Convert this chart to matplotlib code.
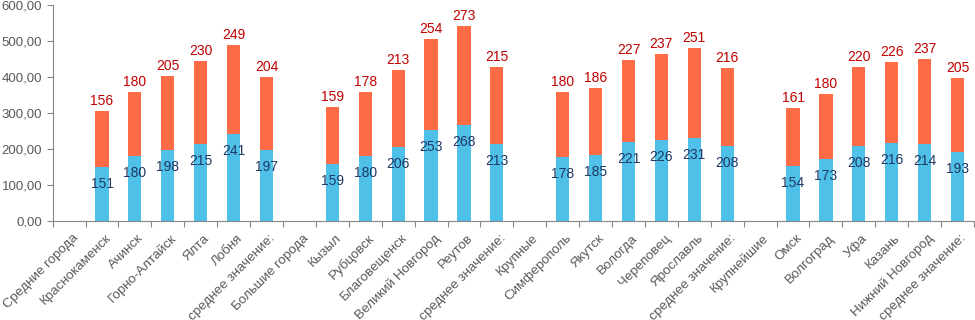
import matplotlib.pyplot as plt
import numpy as np

plt.rcParams['font.family'] = ['Liberation Sans', 'DejaVu Sans']

# data
categories = ['Средние города', 'Краснокаменск', 'Ачинск', 'Горно-Алтайск', 'Ялта', 'Лобня',
              'среднее значение:', 'Большие города', 'Кызыл', 'Рубцовск', 'Благовещенск',
              'Великий Новгород', 'Реутов', 'среднее значение:', 'Крупные', 'Симферополь',
              'Якутск', 'Вологда', 'Череповец', 'Ярославль', 'среднее значение:', 'Крупнейшие',
              'Омск', 'Волгоград', 'Уфа', 'Казань', 'Нижний Новгород', 'среднее значение:']
blue = [np.nan, 151, 180, 198, 215, 241, 197,
        np.nan, 159, 180, 206, 253, 268, 213,
        np.nan, 178, 185, 221, 226, 231, 208,
        np.nan, 154, 173, 208, 216, 214, 193]
red = [np.nan, 156, 180, 205, 230, 249, 204,
       np.nan, 159, 178, 213, 254, 273, 215,
       np.nan, 180, 186, 227, 237, 251, 216,
       np.nan, 161, 180, 220, 226, 237, 205]
yticks = [0, 100, 200, 300, 400, 500, 600]

blue = np.array(blue, dtype=float)
red = np.array(red, dtype=float)
x = np.arange(len(categories))

fig = plt.figure(figsize=(9.75, 3.2), dpi=100)
ax = fig.add_axes([0.054, 0.309, 0.945, 0.675])

ax.bar(x, blue, width=0.4, color='#4FC1E9')
ax.bar(x, red, width=0.4, bottom=blue, color='#FF6B47')

for xi, b, r in zip(x, blue, red):
    if np.isnan(b):
        continue
    ax.annotate(f'{b:.0f}', (xi, b), xytext=(0, -17), textcoords='offset pixels',
                ha='center', va='center', fontsize=10, color='#1F3864')
    ax.annotate(f'{r:.0f}', (xi, b + r), xytext=(0, 3), textcoords='offset pixels',
                ha='center', va='bottom', fontsize=10, color='#C00000')

ax.set_xlim(-0.5, len(categories) - 0.5)
ax.set_ylim(0, 600)
ax.set_yticks(yticks)
ax.set_yticklabels([f'{v:.2f}'.replace('.', ',') for v in yticks], fontsize=9.5, color='#595959')

# ticks between categories
ax.set_xticks(np.arange(len(categories) + 1) - 0.5)
ax.set_xticklabels([])
ax.set_xticks(x + 0.08, minor=True)
ax.set_xticklabels(categories, minor=True, rotation=45, ha='right', va='top',
                   rotation_mode='anchor', fontsize=9.6, color='#595959')
ax.tick_params(axis='x', which='minor', length=0, pad=8)
ax.tick_params(axis='x', which='major', length=4, color='#868686')
ax.tick_params(axis='y', length=4, color='#868686')

for s in ['top', 'right']:
    ax.spines[s].set_visible(False)
ax.spines['left'].set_color('#868686')
ax.spines['bottom'].set_color('#868686')

fig.savefig('out.png', dpi=100)
